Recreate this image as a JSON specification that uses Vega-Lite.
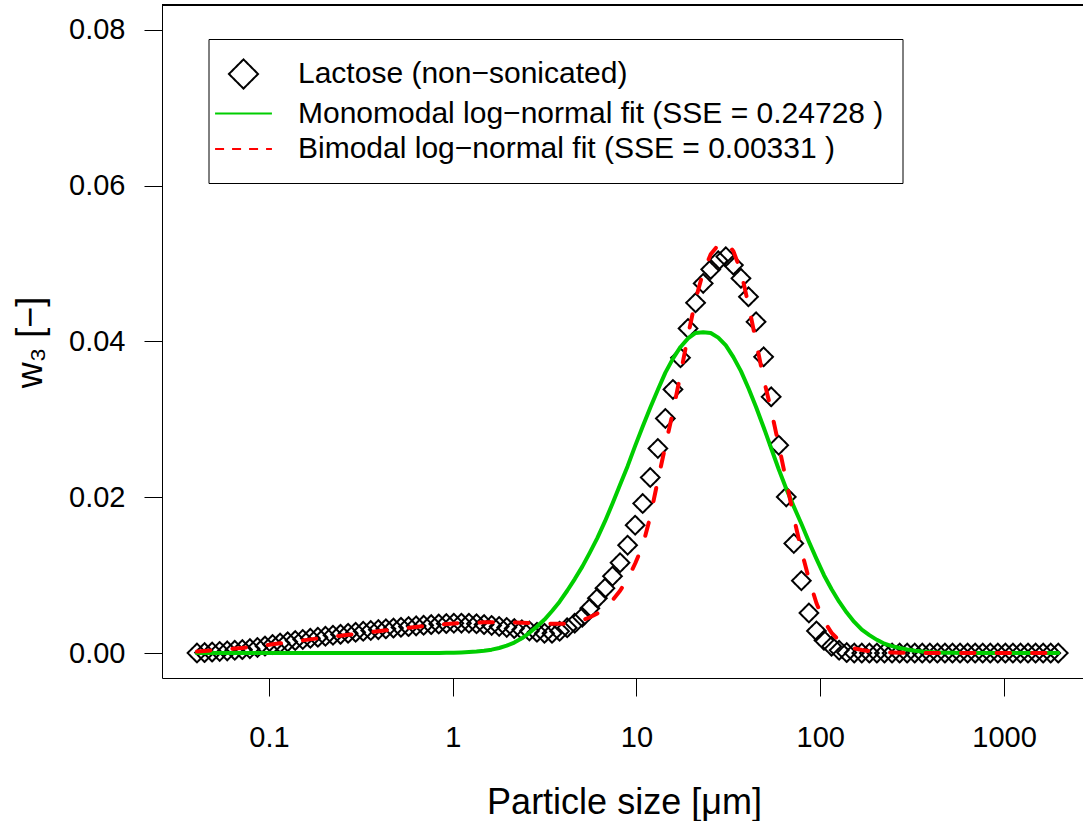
{
  "$schema": "https://vega.github.io/schema/vega-lite/v6.json",
  "width": 921,
  "height": 673,
  "autosize": {"type": "none"},
  "padding": {"left": 162, "top": 5, "right": 0, "bottom": 143},
  "background": "white",
  "config": {
    "font": "Liberation Sans",
    "view": {"stroke": null},
    "axis": {"grid": false, "domainColor": "black", "domainWidth": 1, "tickColor": "black", "tickWidth": 1, "labelColor": "black", "titleColor": "black", "labelFont": "Liberation Sans", "titleFont": "Liberation Sans", "titleFontWeight": "normal"}
  },
  "data": {"values": [
    {"d":0.04057,"obs":0.00001,"mono":0,"bi":0.0002},
    {"d":0.0446,"obs":0.00006,"mono":0,"bi":0.00027},
    {"d":0.04903,"obs":0.00013,"mono":0,"bi":0.00035},
    {"d":0.0539,"obs":0.00021,"mono":0,"bi":0.00043},
    {"d":0.05925,"obs":0.00028,"mono":0,"bi":0.0005},
    {"d":0.06514,"obs":0.00036,"mono":0,"bi":0.00058},
    {"d":0.0716,"obs":0.00045,"mono":0,"bi":0.00066},
    {"d":0.07872,"obs":0.00057,"mono":0,"bi":0.00076},
    {"d":0.08654,"obs":0.00072,"mono":0,"bi":0.00087},
    {"d":0.09511,"obs":0.0009,"mono":0,"bi":0.00099},
    {"d":0.1046,"obs":0.0011,"mono":0,"bi":0.00112},
    {"d":0.1149,"obs":0.00128,"mono":0,"bi":0.00125},
    {"d":0.1264,"obs":0.00145,"mono":0,"bi":0.00137},
    {"d":0.1389,"obs":0.00161,"mono":0,"bi":0.0015},
    {"d":0.1527,"obs":0.00175,"mono":0,"bi":0.00163},
    {"d":0.1679,"obs":0.0019,"mono":0,"bi":0.00176},
    {"d":0.1845,"obs":0.00203,"mono":0,"bi":0.00188},
    {"d":0.2029,"obs":0.00216,"mono":0,"bi":0.002},
    {"d":0.223,"obs":0.00229,"mono":0,"bi":0.00212},
    {"d":0.2451,"obs":0.00241,"mono":0,"bi":0.00223},
    {"d":0.2695,"obs":0.00254,"mono":0,"bi":0.00234},
    {"d":0.2962,"obs":0.00267,"mono":0,"bi":0.00245},
    {"d":0.3257,"obs":0.0028,"mono":0,"bi":0.00257},
    {"d":0.358,"obs":0.0029,"mono":0,"bi":0.00269},
    {"d":0.3936,"obs":0.00301,"mono":0,"bi":0.0028},
    {"d":0.4326,"obs":0.00311,"mono":0,"bi":0.00292},
    {"d":0.4756,"obs":0.00321,"mono":0,"bi":0.00303},
    {"d":0.5228,"obs":0.00331,"mono":0,"bi":0.00314},
    {"d":0.5747,"obs":0.0034,"mono":0,"bi":0.00325},
    {"d":0.6318,"obs":0.00349,"mono":0,"bi":0.00336},
    {"d":0.6945,"obs":0.00357,"mono":0.00001,"bi":0.00346},
    {"d":0.7634,"obs":0.00366,"mono":0.00001,"bi":0.00356},
    {"d":0.8392,"obs":0.00373,"mono":0.00002,"bi":0.00365},
    {"d":0.9225,"obs":0.00379,"mono":0.00003,"bi":0.00373},
    {"d":1.014,"obs":0.00383,"mono":0.00005,"bi":0.0038},
    {"d":1.115,"obs":0.00384,"mono":0.00008,"bi":0.00386},
    {"d":1.225,"obs":0.00383,"mono":0.00013,"bi":0.0039},
    {"d":1.347,"obs":0.00376,"mono":0.0002,"bi":0.00393},
    {"d":1.481,"obs":0.00366,"mono":0.0003,"bi":0.00395},
    {"d":1.628,"obs":0.00355,"mono":0.00044,"bi":0.00396},
    {"d":1.789,"obs":0.00342,"mono":0.00065,"bi":0.00396},
    {"d":1.967,"obs":0.00329,"mono":0.00095,"bi":0.00395},
    {"d":2.162,"obs":0.00315,"mono":0.00135,"bi":0.00393},
    {"d":2.377,"obs":0.00299,"mono":0.0019,"bi":0.0039},
    {"d":2.613,"obs":0.00284,"mono":0.0026,"bi":0.00386},
    {"d":2.873,"obs":0.00267,"mono":0.0034,"bi":0.00382},
    {"d":3.158,"obs":0.00254,"mono":0.0043,"bi":0.00378},
    {"d":3.471,"obs":0.00254,"mono":0.0054,"bi":0.00375},
    {"d":3.816,"obs":0.0028,"mono":0.0066,"bi":0.00375},
    {"d":4.195,"obs":0.00325,"mono":0.008,"bi":0.0038},
    {"d":4.612,"obs":0.00383,"mono":0.0095,"bi":0.00393},
    {"d":5.07,"obs":0.0046,"mono":0.0111,"bi":0.0042},
    {"d":5.573,"obs":0.00575,"mono":0.0129,"bi":0.0046},
    {"d":6.127,"obs":0.00704,"mono":0.0148,"bi":0.0051},
    {"d":6.735,"obs":0.00832,"mono":0.0169,"bi":0.0058},
    {"d":7.404,"obs":0.00987,"mono":0.0192,"bi":0.0068},
    {"d":8.139,"obs":0.0116,"mono":0.0216,"bi":0.008},
    {"d":8.947,"obs":0.01385,"mono":0.024,"bi":0.0095},
    {"d":9.834,"obs":0.01642,"mono":0.0266,"bi":0.0115},
    {"d":10.81,"obs":0.0192,"mono":0.0291,"bi":0.0138},
    {"d":11.88,"obs":0.02254,"mono":0.0315,"bi":0.0175},
    {"d":13.07,"obs":0.02627,"mono":0.0338,"bi":0.0222},
    {"d":14.36,"obs":0.03012,"mono":0.036,"bi":0.0266},
    {"d":15.79,"obs":0.03385,"mono":0.0378,"bi":0.031},
    {"d":17.36,"obs":0.03791,"mono":0.0393,"bi":0.0358},
    {"d":19.08,"obs":0.04168,"mono":0.0404,"bi":0.0408},
    {"d":20.97,"obs":0.04497,"mono":0.0411,"bi":0.0454},
    {"d":23.06,"obs":0.04746,"mono":0.0412,"bi":0.0489},
    {"d":25.35,"obs":0.04926,"mono":0.0411,"bi":0.0512},
    {"d":27.86,"obs":0.05037,"mono":0.0405,"bi":0.0524},
    {"d":30.63,"obs":0.05088,"mono":0.0395,"bi":0.0528},
    {"d":33.67,"obs":0.04981,"mono":0.038,"bi":0.0516},
    {"d":37.02,"obs":0.04811,"mono":0.0362,"bi":0.049},
    {"d":40.69,"obs":0.04574,"mono":0.034,"bi":0.0447},
    {"d":44.73,"obs":0.04253,"mono":0.0316,"bi":0.04},
    {"d":49.18,"obs":0.03803,"mono":0.029,"bi":0.0352},
    {"d":54.06,"obs":0.0329,"mono":0.0263,"bi":0.0312},
    {"d":59.43,"obs":0.02669,"mono":0.0236,"bi":0.0267},
    {"d":65.31,"obs":0.02005,"mono":0.0211,"bi":0.0221},
    {"d":71.8,"obs":0.01407,"mono":0.0188,"bi":0.0174},
    {"d":78.93,"obs":0.00929,"mono":0.0166,"bi":0.0132},
    {"d":86.78,"obs":0.00515,"mono":0.0143,"bi":0.0095},
    {"d":95.38,"obs":0.00284,"mono":0.0121,"bi":0.0064},
    {"d":104.8,"obs":0.00164,"mono":0.01,"bi":0.0041},
    {"d":115.3,"obs":0.00087,"mono":0.0082,"bi":0.0026},
    {"d":126.7,"obs":0.00036,"mono":0.0066,"bi":0.0016},
    {"d":139.3,"obs":0.00006,"mono":0.0052,"bi":0.001},
    {"d":153.1,"obs":0,"mono":0.004,"bi":0.0006},
    {"d":168.3,"obs":0,"mono":0.003,"bi":0.0004},
    {"d":185.1,"obs":0,"mono":0.0023,"bi":0.00025},
    {"d":203.4,"obs":0,"mono":0.0017,"bi":0.00015},
    {"d":223.6,"obs":0,"mono":0.0012,"bi":0.0001},
    {"d":245.9,"obs":0,"mono":0.0009,"bi":0.00006},
    {"d":270.3,"obs":0,"mono":0.00065,"bi":0.00004},
    {"d":297.1,"obs":0,"mono":0.00045,"bi":0.00002},
    {"d":326.6,"obs":0,"mono":0.0003,"bi":0.00001},
    {"d":359.0,"obs":0,"mono":0.0002,"bi":0},
    {"d":394.7,"obs":0,"mono":0.00013,"bi":0},
    {"d":433.9,"obs":0,"mono":0.00008,"bi":0},
    {"d":476.9,"obs":0,"mono":0.00005,"bi":0},
    {"d":524.3,"obs":0,"mono":0.00003,"bi":0},
    {"d":576.4,"obs":0,"mono":0.00002,"bi":0},
    {"d":633.6,"obs":0,"mono":0.00001,"bi":0},
    {"d":696.5,"obs":0,"mono":0,"bi":0},
    {"d":765.7,"obs":0,"mono":0,"bi":0},
    {"d":841.7,"obs":0,"mono":0,"bi":0},
    {"d":925.3,"obs":0,"mono":0,"bi":0},
    {"d":1017,"obs":0,"mono":0,"bi":0},
    {"d":1118,"obs":0,"mono":0,"bi":0},
    {"d":1229,"obs":0,"mono":0,"bi":0},
    {"d":1351,"obs":0,"mono":0,"bi":0},
    {"d":1485,"obs":0,"mono":0,"bi":0},
    {"d":1633,"obs":0,"mono":0,"bi":0},
    {"d":1795,"obs":0,"mono":0,"bi":0},
    {"d":1973,"obs":0,"mono":0,"bi":0}
  ]},
  "layer": [
    {
      "mark": {"type": "point", "filled": false, "size": 350, "strokeWidth": 2, "opacity": 1},
      "encoding": {
        "x": {"field": "d", "type": "quantitative",
          "scale": {"type": "log", "domain": [0.026167, 2691], "nice": false},
          "axis": {"values": [0.1, 1, 10, 100, 1000], "format": "~g", "domain": true, "ticks": true, "tickSize": 18,
            "labelFontSize": 29, "labelBaseline": "alphabetic", "labelPadding": 50, "labelFlush": false, "labelOverlap": false,
            "title": "Particle size [μm]", "titleFontSize": 36, "titleBaseline": "alphabetic", "titleAlign": "center", "titleX": 462, "titleY": 135}},
        "y": {"field": "obs", "type": "quantitative",
          "scale": {"domain": [-0.0032, 0.0832], "nice": false, "zero": false},
          "axis": {"values": [0, 0.02, 0.04, 0.06, 0.08], "format": ".2f", "domain": true, "tickSize": 18,
            "labelFontSize": 29, "labelPadding": 19, "labelFlush": false, "labelOverlap": false,
            "title": "w₃ [−]", "titleFontSize": 36, "titleAngle": 270, "titleBaseline": "alphabetic", "titleAlign": "center", "titleX": -121, "titleY": 337}},
        "color": {"datum": "Lactose (non−sonicated)", "type": "nominal",
          "scale": {"domain": ["Lactose (non−sonicated)", "Monomodal log−normal fit (SSE = 0.24728 )", "Bimodal log−normal fit (SSE = 0.00331 )"],
                    "range": ["#000000", "#00CD00", "#FF0000"]},
          "legend": {"orient": "none", "legendX": 46.5, "legendY": 34, "title": null, "direction": "vertical",
            "padding": 19, "strokeColor": "black", "fillColor": "white",
            "labelFontSize": 30, "labelFont": "Liberation Sans", "labelColor": "black", "labelOffset": 38.5, "labelLimit": 1000,
            "rowPadding": 4.5, "symbolSize": 850, "symbolStrokeWidth": 2, "symbolOpacity": 1, "symbolFillColor": "transparent"}
        },
        "shape": {"datum": "Lactose (non−sonicated)", "type": "nominal",
          "scale": {"domain": ["Lactose (non−sonicated)", "Monomodal log−normal fit (SSE = 0.24728 )", "Bimodal log−normal fit (SSE = 0.00331 )"],
                    "range": ["diamond", "M-1.95,0H1.95", "M-1.95,0H1.95"]},
          "legend": {"orient": "none", "legendX": 46.5, "legendY": 34, "title": null}
        },
        "strokeDash": {"datum": "Lactose (non−sonicated)", "type": "nominal",
          "scale": {"domain": ["Lactose (non−sonicated)", "Monomodal log−normal fit (SSE = 0.24728 )", "Bimodal log−normal fit (SSE = 0.00331 )"],
                    "range": [[1, 0], [1, 0], [9, 8]]},
          "legend": {"orient": "none", "legendX": 46.5, "legendY": 34, "title": null}
        }
      }
    },
    {
      "mark": {"type": "line", "strokeWidth": 4, "strokeCap": "round", "strokeJoin": "round"},
      "encoding": {
        "x": {"field": "d", "type": "quantitative"},
        "y": {"field": "mono", "type": "quantitative"},
        "color": {"datum": "Monomodal log−normal fit (SSE = 0.24728 )", "type": "nominal"}
      }
    },
    {
      "mark": {"type": "line", "strokeWidth": 4, "strokeCap": "round", "strokeJoin": "round", "strokeDash": [13.5, 22]},
      "encoding": {
        "x": {"field": "d", "type": "quantitative"},
        "y": {"field": "bi", "type": "quantitative"},
        "color": {"datum": "Bimodal log−normal fit (SSE = 0.00331 )", "type": "nominal"}
      }
    },
    {
      "mark": {"type": "rule", "color": "black", "strokeWidth": 1},
      "encoding": {
        "y": {"datum": 0.0832, "type": "quantitative"}
      }
    }
  ]
}
